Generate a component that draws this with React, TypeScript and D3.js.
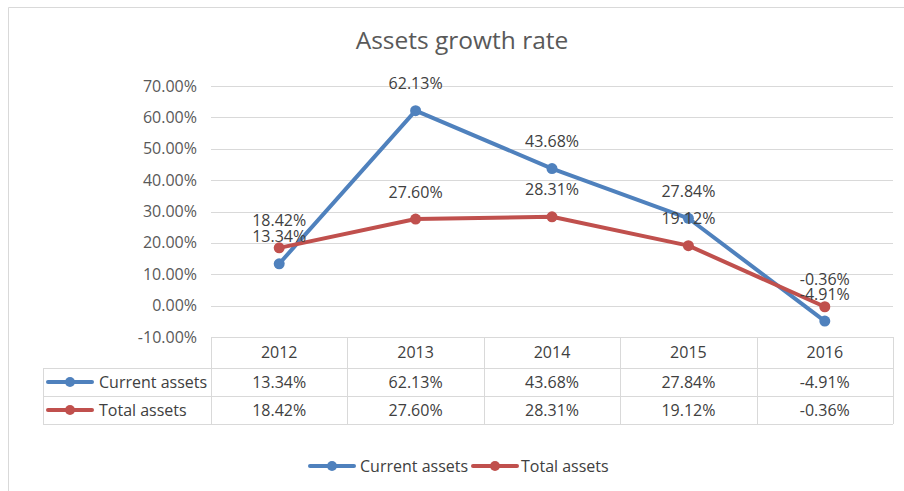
import { useEffect, useRef } from "react";
import * as d3 from "d3";

const years = ["2012", "2013", "2014", "2015", "2016"];
const currentAssets = [13.34, 62.13, 43.68, 27.84, -4.91];
const totalAssets = [18.42, 27.6, 28.31, 19.12, -0.36];
const yTicks = [-10, 0, 10, 20, 30, 40, 50, 60, 70];
const seriesNames = ["Current assets", "Total assets"];
const seriesColors = ["#4F81BD", "#C0504D"];

const FONT = "'Open Sans', sans-serif";

const App = () => {
  const svgRef = useRef<SVGSVGElement>(null);

  useEffect(() => {
    const svg = d3.select(svgRef.current);
    svg.selectAll("*").remove();

    const width = 904;
    const height = 491;
    const plot = { left: 211, right: 893, top: 86, bottom: 337 };
    const rowH = [31, 28, 28];
    const tableLeft = 43;

    svg.attr("width", width).attr("height", height);

    svg
      .append("rect")
      .attr("width", width)
      .attr("height", height)
      .attr("fill", "#ffffff");

    // chart frame (top and left edges only visible)
    svg
      .append("path")
      .attr("d", `M8.5,${height}V7.5H${width}`)
      .attr("fill", "none")
      .attr("stroke", "#d9d9d9");

    svg
      .append("text")
      .attr("x", 462)
      .attr("y", 49)
      .attr("text-anchor", "middle")
      .style("font-family", FONT)
      .style("font-size", "24.5px")
      .style("fill", "#595959")
      .text("Assets growth rate");

    const x = d3
      .scaleBand()
      .domain(years)
      .range([plot.left, plot.right])
      .padding(0);

    const y = d3
      .scaleLinear()
      .domain([-10, 70])
      .range([plot.bottom, plot.top]);

    const cx = (d: string) => (x(d) as number) + x.bandwidth() / 2;
    const fmt = (v: number) => v.toFixed(2) + "%";

    // gridlines
    svg
      .selectAll(".grid")
      .data(yTicks)
      .enter()
      .append("line")
      .attr("x1", plot.left)
      .attr("x2", plot.right)
      .attr("y1", (d) => Math.round(y(d)) + 0.5)
      .attr("y2", (d) => Math.round(y(d)) + 0.5)
      .attr("stroke", "#d9d9d9")
      .attr("stroke-width", 1);

    svg
      .selectAll(".ylab")
      .data(yTicks)
      .enter()
      .append("text")
      .attr("x", 197)
      .attr("y", (d) => y(d))
      .attr("dy", "0.35em")
      .attr("text-anchor", "end")
      .style("font-family", FONT)
      .style("font-size", "16px")
      .style("fill", "#595959")
      .text((d) => fmt(d));

    // data table
    const rowTop = [plot.bottom, plot.bottom + rowH[0], plot.bottom + rowH[0] + rowH[1]];
    const tableBottom = rowTop[2] + rowH[2];
    const tg = svg.append("g");

    [rowTop[0], rowTop[1], rowTop[2], tableBottom].forEach((ty, i) => {
      tg.append("line")
        .attr("x1", i === 0 ? plot.left : tableLeft)
        .attr("x2", plot.right)
        .attr("y1", ty + 0.5)
        .attr("y2", ty + 0.5)
        .attr("stroke", "#d9d9d9");
    });

    const colEdges = years.map((d) => x(d) as number).concat([plot.right]);
    colEdges.forEach((cxv) => {
      tg.append("line")
        .attr("x1", Math.round(cxv) + 0.5)
        .attr("x2", Math.round(cxv) + 0.5)
        .attr("y1", rowTop[0])
        .attr("y2", tableBottom)
        .attr("stroke", "#d9d9d9");
    });
    tg.append("line")
      .attr("x1", tableLeft + 0.5)
      .attr("x2", tableLeft + 0.5)
      .attr("y1", rowTop[1])
      .attr("y2", tableBottom)
      .attr("stroke", "#d9d9d9");

    const cellText = (tx: number, ty: number, txt: string, anchor = "middle") =>
      tg
        .append("text")
        .attr("x", tx)
        .attr("y", ty)
        .attr("dy", "0.35em")
        .attr("text-anchor", anchor)
        .style("font-family", FONT)
        .style("font-size", "16px")
        .style("fill", "#404040")
        .text(txt);

    years.forEach((yr) => cellText(cx(yr), rowTop[0] + rowH[0] / 2, yr));

    const series = [currentAssets, totalAssets];

    const legendKey = (g: any, kx: number, ky: number, color: string) => {
      g.append("line")
        .attr("x1", kx)
        .attr("x2", kx + 44)
        .attr("y1", ky)
        .attr("y2", ky)
        .attr("stroke", color)
        .attr("stroke-width", 4)
        .attr("stroke-linecap", "round");
      g.append("circle")
        .attr("cx", kx + 22)
        .attr("cy", ky)
        .attr("r", 5)
        .attr("fill", color);
    };

    series.forEach((vals, si) => {
      const ry = rowTop[si + 1] + rowH[si + 1] / 2;
      legendKey(tg, 48, ry, seriesColors[si]);
      cellText(99, ry, seriesNames[si], "start");
      vals.forEach((v, i) => cellText(cx(years[i]), ry, fmt(v)));
    });

    // lines
    const line = d3
      .line<number>()
      .x((_, i) => cx(years[i]))
      .y((d) => y(d));

    series.forEach((vals, si) => {
      const g = svg.append("g");
      g.append("path")
        .datum(vals)
        .attr("d", line)
        .attr("fill", "none")
        .attr("stroke", seriesColors[si])
        .attr("stroke-width", 4)
        .attr("stroke-linejoin", "round");
      g.selectAll("circle")
        .data(vals)
        .enter()
        .append("circle")
        .attr("cx", (_, i) => cx(years[i]))
        .attr("cy", (d) => y(d))
        .attr("r", 5.5)
        .attr("fill", seriesColors[si]);
    });

    // data labels
    series.forEach((vals) => {
      svg
        .append("g")
        .selectAll("text")
        .data(vals)
        .enter()
        .append("text")
        .attr("x", (_, i) => cx(years[i]))
        .attr("y", (d) => y(d) - 27)
        .attr("dy", "0.35em")
        .attr("text-anchor", "middle")
        .style("font-family", FONT)
        .style("font-size", "16px")
        .style("fill", "#404040")
        .text((d) => fmt(d));
    });

    // bottom legend
    const lg = svg.append("g");
    const legendX = [310, 473];
    const textX = [360, 521];
    seriesNames.forEach((name, si) => {
      legendKey(lg, legendX[si], 466, seriesColors[si]);
      lg.append("text")
        .attr("x", textX[si])
        .attr("y", 466)
        .attr("dy", "0.35em")
        .style("font-family", FONT)
        .style("font-size", "16px")
        .style("fill", "#404040")
        .text(name);
    });
  }, []);

  return (
    <svg
      ref={svgRef}
      style={{ position: "absolute", left: 0, top: 0, display: "block" }}
    ></svg>
  );
};

export default App;
